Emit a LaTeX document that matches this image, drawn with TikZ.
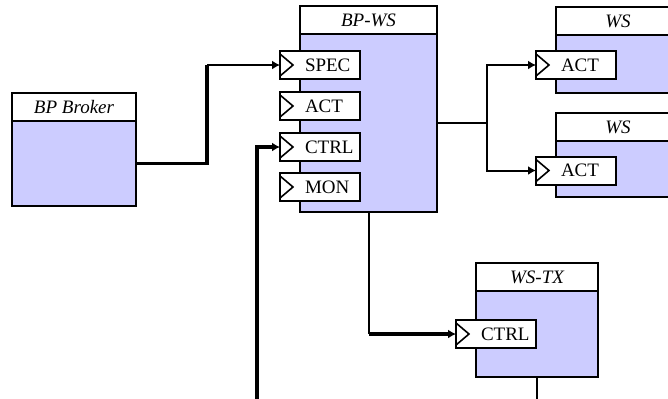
\documentclass[tikz,border=0pt]{standalone}
\usepackage{fontspec}
\setmainfont{Liberation Serif}
\usetikzlibrary{arrows.meta,positioning}
\definecolor{wsfill}{RGB}{204,204,255}
\tikzset{
  head/.style  = {draw, fill=white, line width=1pt, outer sep=0pt, inner sep=0pt,
                  minimum height=14pt, font=\fontsize{9.5}{11}\selectfont\itshape},
  body/.style  = {draw, fill=wsfill, line width=1pt, outer sep=0pt, inner sep=0pt},
  port/.style  = {draw, fill=white, line width=1pt, outer sep=0pt,
                  inner xsep=2pt, inner ysep=0pt, minimum height=14pt,
                  text width=36pt, align=left, font=\fontsize{9.5}{11}\selectfont,
                  execute at begin node=\hspace*{10.5pt},
                  path picture={\draw[line width=0.8pt]
                    ([yshift=-1.5pt]path picture bounding box.north west)
                    -- ([xshift=6.5pt]path picture bounding box.west)
                    -- ([yshift=1.5pt]path picture bounding box.south west);}},
  link/.style  = {line width=1pt},
  heavy/.style = {line width=1.6pt},
  arrow/.style = {-{Latex[length=4pt,width=4.5pt]}},
}

\begin{document}
\begin{tikzpicture}[x=0.5pt, y=-0.5pt, node distance=6.5pt]
\clip (0,0) rectangle (668,398);

% components
\node[head, anchor=north west, minimum width=62pt] (broker) at (12,93) {BP Broker};
\node[body, below=0pt of broker, minimum width=62pt, minimum height=42.5pt] (brokerb) {};

\node[head, anchor=north west, minimum width=68.5pt] (bpws) at (300,6) {BP-WS};
\node[body, below=0pt of bpws, minimum width=68.5pt, minimum height=89pt] (bpwsb) {};

\node[head, anchor=north west, minimum width=62pt] (ws1) at (556,7) {WS};
\node[body, below=0pt of ws1, minimum width=62pt, minimum height=29pt] (ws1b) {};

\node[head, anchor=north west, minimum width=62pt] (ws2) at (556,113) {WS};
\node[body, below=0pt of ws2, minimum width=62pt, minimum height=28pt] (ws2b) {};

\node[head, anchor=north west, minimum width=61pt] (tx) at (476,263) {WS-TX};
\node[body, below=0pt of tx, minimum width=61pt, minimum height=43pt] (txb) {};

% ports
\node[port, anchor=west] (spec) at (280,65) {SPEC};
\node[port, below=of spec] (act) {ACT};
\node[port, below=of act] (ctrl) {CTRL};
\node[port, below=6pt of ctrl] (mon) {MON};

\node[port, anchor=west] (act1) at (536,65) {ACT};
\node[port, anchor=west] (act2) at (536,170.5) {ACT};
\node[port, anchor=west] (txctrl) at (456,334) {CTRL};

% connectors
\coordinate (k1) at (207,65);
\draw[heavy] (brokerb.east) -| (k1);
\draw[link, arrow] (k1) -- (spec.west);

\coordinate (ctrlin) at (257,402);
\draw[heavy, arrow] (ctrlin) |- (ctrl.west);

\coordinate (fork) at ([xshift=25pt]bpwsb.east);
\draw[link] (bpwsb.east) -- (fork);
\draw[link, arrow] (fork) |- (act1.west);
\draw[link, arrow] (fork) |- (act2.west);

\coordinate (k2) at (bpwsb.south |- txctrl.west);
\draw[link] (bpwsb.south) -- (k2);
\draw[heavy, arrow] (k2) -- (txctrl.west);

\coordinate (txout) at (txb.south |- ctrlin);
\draw[link] (txb.south) -- (txout);
\end{tikzpicture}
\end{document}
